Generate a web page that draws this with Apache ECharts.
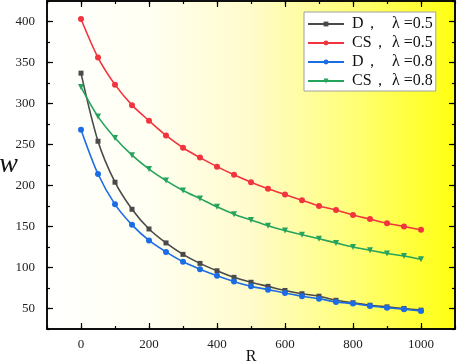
<!DOCTYPE html>
<html>
<head>
<meta charset="utf-8">
<script src="https://cdn.jsdelivr.net/npm/echarts@6/dist/echarts.min.js"></script>
<style>
  html, body { margin: 0; padding: 0; background: #fff; }
  #chart { width: 457px; height: 362px; }
</style>
</head>
<body>
<div id="chart"></div>
<script>
  // R values (x axis)
  var rValues = [0, 50, 100, 150, 200, 250, 300, 350, 400, 450, 500,
                 550, 600, 650, 700, 750, 800, 850, 900, 950, 1000];

  // w
  var dHalf  = [337, 254, 204, 171, 147, 130, 116, 105, 96, 88, 82,
                77, 72, 68, 65, 60, 57, 54, 52, 50, 48];
  var csHalf = [403, 356, 323, 298, 279, 261, 246, 234, 223, 213, 204,
                196, 189, 182, 175, 170, 164, 159, 154, 150, 146];
  var dEight = [268, 214, 177, 152, 133, 119, 107, 98, 90, 83, 77,
                73, 69, 65, 62, 58, 56, 53, 51, 49, 47];
  var csEight = [320, 284, 258, 237, 220, 206, 194, 184, 174, 165, 158,
                 151, 145, 140, 135, 130, 125, 121, 117, 114, 110];

  var xMajor = [0, 200, 400, 600, 800, 1000];
  var yMajor = [50, 100, 150, 200, 250, 300, 350, 400];

  var names = ['D，λ =0.5', 'CS，λ =0.5', 'D，λ =0.8', 'CS，λ =0.8'];
  var colors = ['#4a4a4a', '#f2343f', '#1c6ce6', '#26a35c'];

  function pairs(ys) {
    return rValues.map(function (r, i) { return [r, ys[i]]; });
  }

  var serif = '"Liberation Serif", "DejaVu Serif", serif';
  var chart = echarts.init(document.getElementById('chart'));

  function xAx(pos, major, withLabel) {
    return {
      type: 'value', position: pos, min: -100, max: 1100, interval: 100,
      gridIndex: 0,
      axisLine: { show: true, onZero: false, lineStyle: { color: '#000', width: 1.5 } },
      axisTick: major
        ? { show: true, inside: true, length: 6, customValues: xMajor, lineStyle: { color: '#000', width: 1.2 } }
        : { show: true, inside: true, length: 3, lineStyle: { color: '#000', width: 1.2 } },
      axisLabel: withLabel
        ? { show: true, customValues: xMajor, margin: 9, color: '#222', fontFamily: serif, fontSize: 13,
            formatter: function (v) { return String(v); } }
        : { show: false },
      splitLine: { show: false }
    };
  }
  function yAx(pos, major, withLabel) {
    return {
      type: 'value', position: pos, min: 25, max: 425, interval: 25,
      gridIndex: 0,
      axisLine: { show: true, onZero: false, lineStyle: { color: '#000', width: 1.5 } },
      axisTick: major
        ? { show: true, inside: true, length: 6, customValues: yMajor, lineStyle: { color: '#000', width: 1.2 } }
        : { show: true, inside: true, length: 3, lineStyle: { color: '#000', width: 1.2 } },
      axisLabel: withLabel
        ? { show: true, customValues: yMajor, margin: 12, color: '#222', fontFamily: serif, fontSize: 13 }
        : { show: false },
      splitLine: { show: false }
    };
  }

  var xAxes = [xAx('bottom', true, true), xAx('bottom', false, false),
               xAx('top', true, false), xAx('top', false, false)];
  xAxes[0].name = 'R';
  xAxes[0].nameLocation = 'middle';
  xAxes[0].nameGap = 20;
  xAxes[0].nameMoveOverlap = false;
  xAxes[0].nameTextStyle = { fontFamily: serif, fontSize: 16, color: '#111' };

  var yAxes = [yAx('left', true, true), yAx('left', false, false),
               yAx('right', true, false), yAx('right', false, false)];
  yAxes[0].name = 'w';
  yAxes[0].nameLocation = 'middle';
  yAxes[0].nameRotate = 0;
  yAxes[0].nameGap = 29;
  yAxes[0].nameMoveOverlap = false;
  yAxes[0].nameTextStyle = { fontFamily: serif, fontSize: 28, fontStyle: 'italic', color: '#111' };

  var symbols = ['rect', 'circle', 'circle', 'triangle'];
  var sizes = [5, 6, 6, 6];
  var series = [dHalf, csHalf, dEight, csEight].map(function (ys, i) {
    return {
      name: names[i],
      type: 'line',
      xAxisIndex: 0,
      yAxisIndex: 0,
      data: pairs(ys),
      smooth: 0.3,
      symbol: symbols[i],
      symbolSize: sizes[i],
      symbolRotate: i === 3 ? 180 : 0,
      showSymbol: true,
      color: colors[i],
      lineStyle: { width: 1.6, color: colors[i] },
      itemStyle: { color: colors[i] }
    };
  });

  chart.setOption({
    animation: false,
    grid: {
      left: 47, right: 2, top: 1, bottom: 33,
      containLabel: false, outerBoundsMode: 'none',
      show: true, borderWidth: 0,
      backgroundColor: new echarts.graphic.LinearGradient(0, 0, 1, 0, [
        { offset: 0, color: '#ffffff' },
        { offset: 0.25, color: '#fffff2' },
        { offset: 0.5, color: '#fffbcb' },
        { offset: 0.75, color: '#ffff78' },
        { offset: 1, color: '#ffff10' }
      ])
    },
    legend: {
      orient: 'vertical',
      left: 304, top: 12,
      padding: [4, 3, 2, 3],
      itemWidth: 36, itemHeight: 6, itemGap: 3,
      backgroundColor: '#fff',
      borderColor: '#a0a0a0', borderWidth: 1,
      data: names,
      formatter: function (n) {
        var parts = n.split('，');
        return '{a|' + parts[0] + '，}{b|' + parts[1] + '}';
      },
      textStyle: {
        color: '#111',
        rich: {
          a: { width: 40, fontFamily: serif, fontSize: 16, lineHeight: 16, padding: [0, 0, 0, 3] },
          b: { fontFamily: serif, fontSize: 16, lineHeight: 16 }
        }
      }
    },
    xAxis: xAxes,
    yAxis: yAxes,
    series: series
  });
</script>
</body>
</html>
